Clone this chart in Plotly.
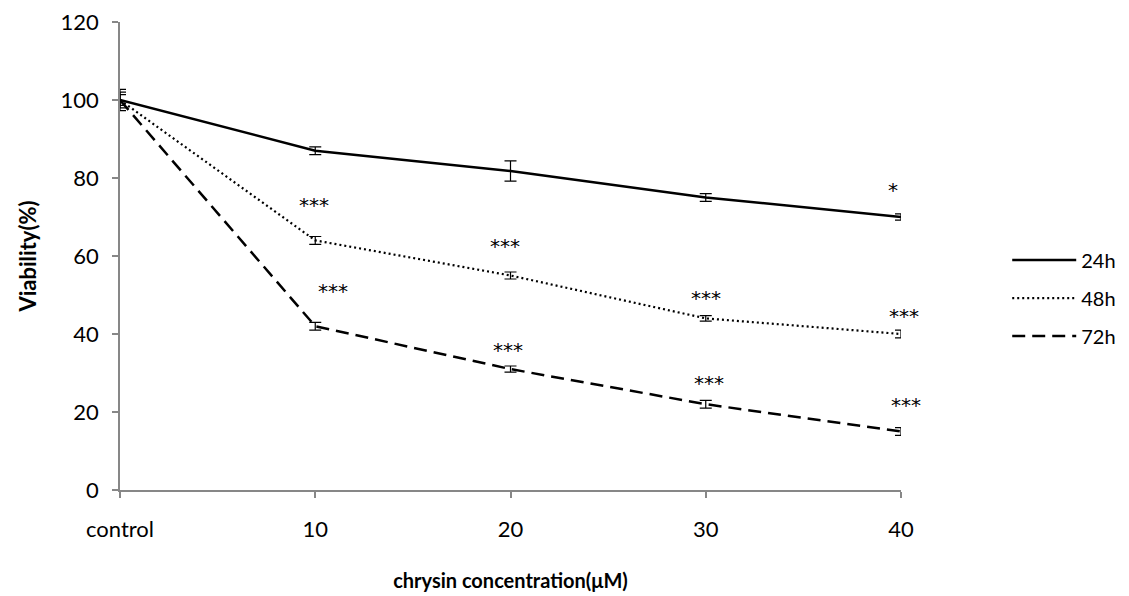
import plotly.graph_objects as go

categories = ["control", "10", "20", "30", "40"]
v24 = [100, 87, 81.8, 75, 70]
e24 = [2.7, 1.0, 2.6, 1.0, 0.8]
v48 = [100, 64, 55, 44, 40]
e48 = [2.0, 1.0, 0.9, 0.7, 1.0]
v72 = [100, 42, 31, 22, 15]
e72 = [1.4, 1.0, 0.8, 1.0, 1.0]
sig24 = ["", "", "", "", "*"]
sig48 = ["", "***", "***", "***", "***"]
sig72 = ["", "***", "***", "***", "***"]
series_names = ["24h", "48h", "72h"]

FONT = "Lato"
STAR_FONT = "DejaVu Sans"
TICK_SIZE = 22
TITLE_SIZE = 20
styles = [
    dict(width=2.5, dash="solid"),
    dict(width=2.2, dash="2px,3px"),
    dict(width=2.5, dash="13px,7px"),
]
# pixel offsets for significance labels (dx, dy)
sig_offsets = [
    [(0, 0), (0, 0), (0, 0), (0, 0), (-8, 27)],
    [(0, 0), (-1, 35), (-6, 30), (0, 20), (3, 18)],
    [(0, 0), (18, 35), (-3, 19), (3, 21), (5, 27)],
]

fig = go.Figure()
for i, (name, vals, errs, st) in enumerate(zip(series_names, [v24, v48, v72], [e24, e48, e72], styles)):
    fig.add_trace(go.Scatter(
        x=categories, y=vals, name=name, mode="lines", legendgroup=f"g{i}",
        line=dict(color="black", width=st["width"], dash=st["dash"]),
        error_y=dict(type="data", array=errs, visible=True, color="black",
                     thickness=1.2, width=6),
        cliponaxis=False,
    ))

for sigs, vals, offs in zip([sig24, sig48, sig72], [v24, v48, v72], sig_offsets):
    for idx, (s, v, (dx, dy)) in enumerate(zip(sigs, vals, offs)):
        if s:
            fig.add_annotation(x=idx, y=v, xref="x", yref="y", text=s, showarrow=False,
                               xshift=dx, yshift=dy,
                               font=dict(family=STAR_FONT, size=20, color="black"))

axis_color = "#878787"
fig.update_layout(
    width=1121, height=588,
    margin=dict(l=112, r=228, t=14, b=106, autoexpand=False),
    paper_bgcolor="white", plot_bgcolor="white",
    font=dict(family=FONT, size=TICK_SIZE, color="black"),
    showlegend=True,
    legend=dict(x=1.136, y=0.41, xanchor="left", yanchor="middle",
                font=dict(family=FONT, size=20, color="black"),
                itemwidth=64, tracegroupgap=9, bgcolor="rgba(0,0,0,0)"),
    xaxis=dict(
        type="category", range=[0, 4], showgrid=False, zeroline=False,
        showline=True, linecolor=axis_color, linewidth=1.5,
        ticks="outside", ticklen=6, tickcolor=axis_color, tickwidth=1.5,
        ticklabelstandoff=13, automargin=False, ticklabeloverflow="allow",
        tickfont=dict(family=FONT, size=TICK_SIZE, color="black"),
        title=dict(text="<b>chrysin concentration(μM)</b>", standoff=33,
                   font=dict(family=FONT, size=TITLE_SIZE, color="black")),
    ),
    yaxis=dict(
        range=[0, 120], dtick=20, showgrid=False, zeroline=False,
        showline=True, linecolor=axis_color, linewidth=1.5,
        ticks="outside", ticklen=6, tickcolor=axis_color, tickwidth=1.5,
        ticklabelstandoff=9, automargin=False, ticklabeloverflow="allow",
        tickfont=dict(family=FONT, size=TICK_SIZE, color="black"),
        title=dict(text="<b>Viability(%)</b>", standoff=18,
                   font=dict(family=FONT, size=22, color="black")),
    ),
)

fig.write_html("out.html")
